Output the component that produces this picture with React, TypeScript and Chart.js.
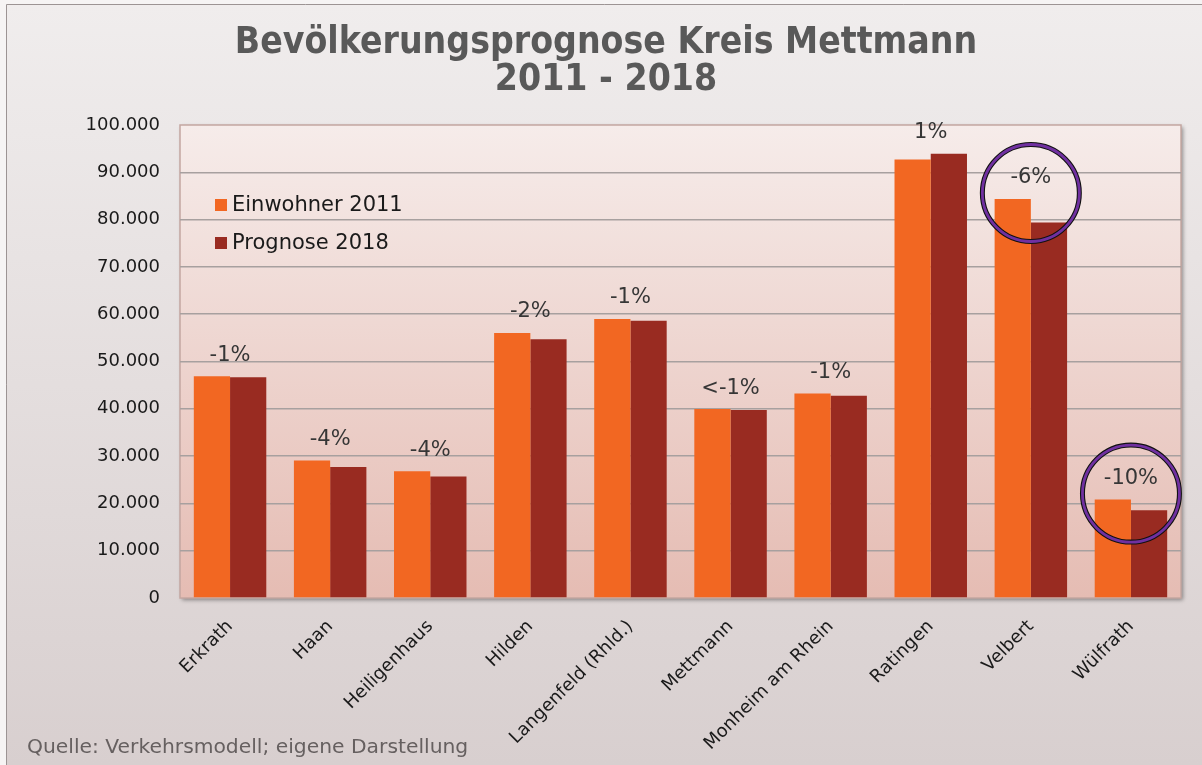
import React, { useEffect, useRef } from 'react';
import { Chart, registerables } from 'chart.js';

Chart.register(...registerables);

// ---- Data ----
const categories = [
  'Erkrath',
  'Haan',
  'Heiligenhaus',
  'Hilden',
  'Langenfeld (Rhld.)',
  'Mettmann',
  'Monheim am Rhein',
  'Ratingen',
  'Velbert',
  'Wülfrath',
];
const einwohner2011 = [46860, 29070, 26800, 56040, 59000, 39940, 43260, 92690, 84360, 20800];
const prognose2018 = [46650, 27710, 25680, 54700, 58640, 39720, 42760, 93900, 79400, 18540];
const changeLabels = ['-1%', '-4%', '-4%', '-2%', '-1%', '<-1%', '-1%', '1%', '-6%', '-10%'];
const highlighted = ['Velbert', 'Wülfrath'];
const seriesNames = ['Einwohner 2011', 'Prognose 2018'];
const titleLines = ['Bevölkerungsprognose Kreis Mettmann', '2011 - 2018'];
const sourceText = 'Quelle: Verkehrsmodell; eigene Darstellung';
const yMin = 0;
const yMax = 100000;
const yStep = 10000;

const ORANGE = '#f26722';
const DARKRED = '#992b21';
const FONT = "'DejaVu Sans', Verdana, sans-serif";

const fmt = (v: number) => String(Math.round(v)).replace(/\B(?=(\d{3})+(?!\d))/g, '.');

const backgroundPlugin = {
  id: 'bgPlugin',
  beforeDraw(chart: any) {
    const { ctx, width, height, chartArea } = chart;
    ctx.save();
    ctx.fillStyle = '#f6f4f4';
    ctx.fillRect(0, 0, width, height);
    const g = ctx.createLinearGradient(0, 4, 0, height);
    g.addColorStop(0, '#f0eded');
    g.addColorStop(1, '#d8cfcf');
    ctx.fillStyle = g;
    ctx.fillRect(6, 4, width - 6, height - 4);
    ctx.strokeStyle = '#9c9494';
    ctx.lineWidth = 1;
    ctx.beginPath();
    ctx.moveTo(6.5, height);
    ctx.lineTo(6.5, 4.5);
    ctx.lineTo(width, 4.5);
    ctx.stroke();

    const { left, top, right, bottom } = chartArea;
    const pg = ctx.createLinearGradient(0, top, 0, bottom);
    pg.addColorStop(0, '#f6ecea');
    pg.addColorStop(1, '#e5bcb3');
    ctx.shadowColor = 'rgba(0,0,0,0.4)';
    ctx.shadowBlur = 4;
    ctx.shadowOffsetX = 2;
    ctx.shadowOffsetY = 2;
    ctx.fillStyle = pg;
    ctx.fillRect(left, top, right - left, bottom - top);
    ctx.shadowColor = 'transparent';
    ctx.strokeStyle = '#c4a7a1';
    ctx.lineWidth = 1.5;
    ctx.strokeRect(left, top, right - left, bottom - top);
    ctx.restore();
  },
};

const annotationPlugin = {
  id: 'annotations',
  afterDatasetsDraw(chart: any) {
    const { ctx } = chart;
    const m0 = chart.getDatasetMeta(0);
    const m1 = chart.getDatasetMeta(1);
    ctx.save();
    categories.forEach((cat, i) => {
      const b0 = m0.data[i];
      const b1 = m1.data[i];
      const x = (b0.x + b1.x) / 2;
      const topY = Math.min(b0.y, b1.y);
      const ly = topY - 21;
      ctx.font = `21px ${FONT}`;
      ctx.fillStyle = '#363636';
      ctx.textAlign = 'center';
      ctx.textBaseline = 'middle';
      ctx.fillText(changeLabels[i], x, ly);
      if (highlighted.includes(cat)) {
        const cy = ly + 15;
        ctx.beginPath();
        ctx.arc(x, cy, 48.5, 0, Math.PI * 2);
        ctx.strokeStyle = '#111111';
        ctx.lineWidth = 5;
        ctx.stroke();
        ctx.beginPath();
        ctx.arc(x, cy, 48.5, 0, Math.PI * 2);
        ctx.strokeStyle = '#7030a0';
        ctx.lineWidth = 2.8;
        ctx.stroke();
      }
    });
    ctx.restore();
  },
  afterDraw(chart: any) {
    const { ctx, chartArea, height } = chart;
    ctx.save();
    // legend inside plot area
    chart.data.datasets.forEach((ds: any, i: number) => {
      const y = chartArea.top + 80 + i * 38;
      const x = chartArea.left + 35;
      ctx.fillStyle = ds.backgroundColor;
      ctx.fillRect(x, y - 6, 12, 12);
      ctx.font = `21px ${FONT}`;
      ctx.fillStyle = '#1a1a1a';
      ctx.textAlign = 'left';
      ctx.textBaseline = 'middle';
      ctx.fillText(ds.label, x + 17, y + 1);
    });
    // source
    ctx.font = `20.3px ${FONT}`;
    ctx.fillStyle = '#666060';
    ctx.textAlign = 'left';
    ctx.textBaseline = 'middle';
    ctx.fillText(sourceText, 27, height - 17);
    ctx.restore();
  },
};

export default function App() {
  const ref = useRef<HTMLCanvasElement | null>(null);
  useEffect(() => {
    if (!ref.current) return;
    const chart = new Chart(ref.current, {
      type: 'bar',
      data: {
        labels: categories,
        datasets: [
          { label: seriesNames[0], data: einwohner2011, backgroundColor: ORANGE, borderWidth: 0 },
          { label: seriesNames[1], data: prognose2018, backgroundColor: DARKRED, borderWidth: 0 },
        ],
      },
      options: {
        animation: false,
        responsive: false,
        devicePixelRatio: 1,
        layout: { padding: { left: 31, right: 21, top: 0, bottom: 0 } },
        datasets: { bar: { categoryPercentage: 0.724, barPercentage: 1.0 } },
        plugins: {
          legend: { display: false },
          tooltip: { enabled: false },
          title: {
            display: true,
            text: titleLines,
            color: '#595959',
            font: { family: "'DejaVu Sans Condensed', 'DejaVu Sans', sans-serif", weight: 'bold', size: 37, lineHeight: 1.0 },
            padding: { top: 24.5, bottom: 26.5 },
          },
        },
        scales: {
          x: {
            grid: { display: false },
            border: { display: false },
            ticks: {
              autoSkip: false,
              maxRotation: 45,
              minRotation: 45,
              color: '#1a1a1a',
              font: { family: FONT, size: 18 },
              padding: 10,
            },
            afterFit: (s: any) => { s.height = 167; },
          },
          y: {
            min: yMin,
            max: yMax,
            grid: {
              color: (c: any) => (c.tick && (c.tick.value === yMax || c.tick.value === yMin) ? 'rgba(0,0,0,0)' : '#a7a09f'),
              lineWidth: 1.5,
              drawTicks: false,
            },
            border: { display: false },
            ticks: {
              stepSize: yStep,
              color: '#1a1a1a',
              font: { family: FONT, size: 18 },
              padding: 20,
              callback: (v: any) => fmt(Number(v)),
            },
            afterFit: (s: any) => { s.width = 149; },
          },
        },
      },
      plugins: [backgroundPlugin, annotationPlugin],
    });
    return () => chart.destroy();
  }, []);
  return (
    <div style={{ position: 'absolute', left: 0, top: 0, width: 1202, height: 765 }}>
      <canvas ref={ref} width={1202} height={765} />
    </div>
  );
}
